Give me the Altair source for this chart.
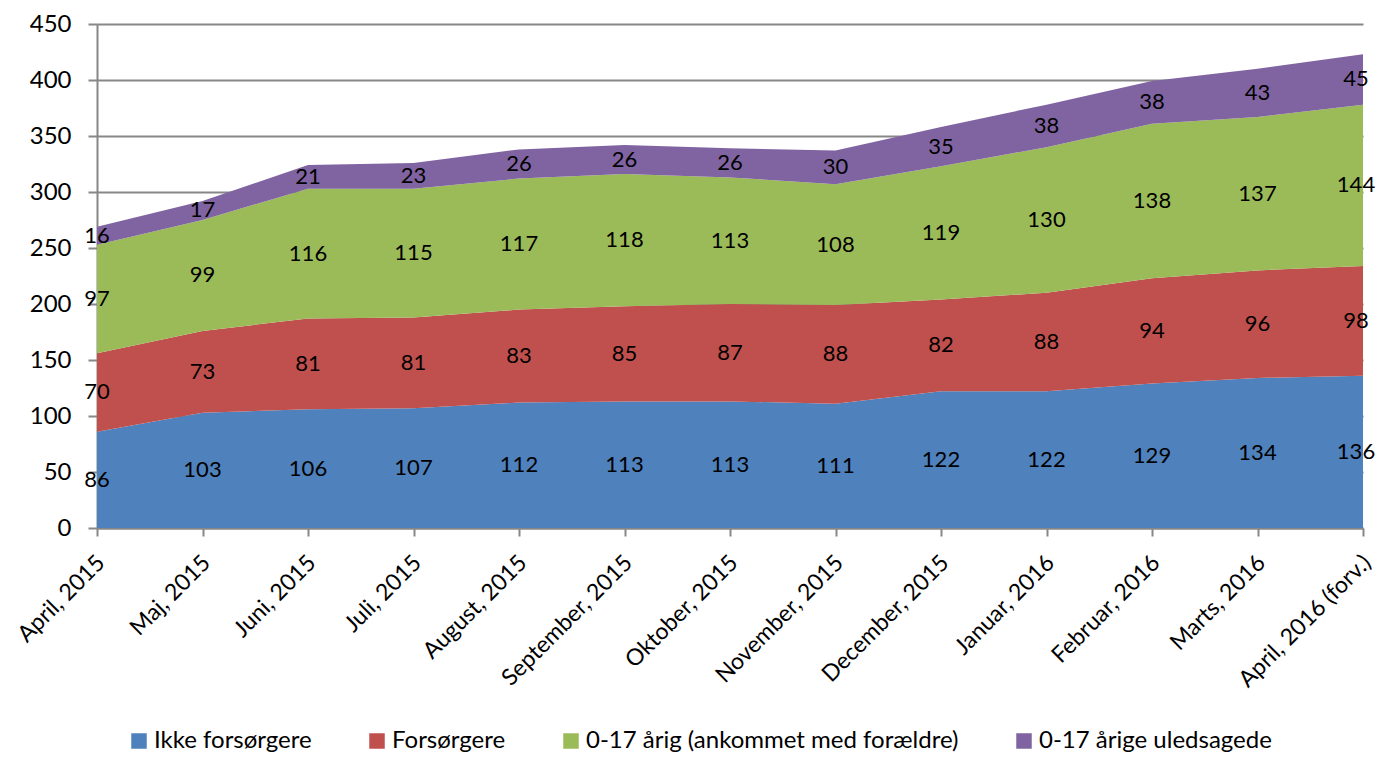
import altair as alt
import pandas as pd

months = ["April, 2015", "Maj, 2015", "Juni, 2015", "Juli, 2015", "August, 2015",
          "September, 2015", "Oktober, 2015", "November, 2015", "December, 2015",
          "Januar, 2016", "Februar, 2016", "Marts, 2016", "April, 2016 (forv.)"]
series = ["Ikke forsørgere", "Forsørgere", "0-17 årig (ankommet med forældre)", "0-17 årige uledsagede"]
ikke = [86, 103, 106, 107, 112, 113, 113, 111, 122, 122, 129, 134, 136]
fors = [70, 73, 81, 81, 83, 85, 87, 88, 82, 88, 94, 96, 98]
aarig = [97, 99, 116, 115, 117, 118, 113, 108, 119, 130, 138, 137, 144]
uleds = [16, 17, 21, 23, 26, 26, 26, 30, 35, 38, 38, 43, 45]
colors = ["#4F81BD", "#C0504D", "#9BBB59", "#8064A2"]
y_ticks = list(range(0, 451, 50))

rows = []
for k, (name, vals) in enumerate(zip(series, [ikke, fors, aarig, uleds])):
    for m, v in zip(months, vals):
        rows.append({"month": m, "series": name, "value": v, "k": k})
df = pd.DataFrame(rows)

FONT = "Lato"
GRAY = "#878787"
last = months[-1]

xscale = alt.Scale(type="point", padding=0)
x = alt.X("month:N", sort=months, scale=xscale,
          axis=alt.Axis(title=None, labelAngle=-45, labelAlign="right", labelBaseline="top",
                        labelFontSize=23, labelFont=FONT, labelColor="black", labelLimit=400,
                        tickSize=8, tickColor=GRAY, tickWidth=2, domainColor=GRAY,
                        domainWidth=2, labelPadding=15, labelOffset=-4, grid=False))

area = alt.Chart(df).mark_area(opacity=1).encode(
    x=x,
    y=alt.Y("value:Q", stack="zero", scale=alt.Scale(domain=[0, 450], nice=False),
            axis=alt.Axis(title=None, values=y_ticks, labelFontSize=24, labelFont=FONT,
                          labelColor="black", tickSize=9, tickColor=GRAY, tickWidth=2,
                          domainColor=GRAY, domainWidth=2, gridColor=GRAY, gridWidth=2,
                          grid=True, labelPadding=17)),
    color=alt.Color("series:N", scale=alt.Scale(domain=series, range=colors),
                    legend=alt.Legend(title=None, orient="none", legendX=30, legendY=705,
                                      direction="horizontal", symbolType="square",
                                      symbolSize=240, symbolStrokeWidth=0,
                                      labelFontSize=24, labelFont=FONT, labelColor="black",
                                      labelOffset=3, columnPadding=53, labelLimit=600)),
    order=alt.Order("k:Q", sort="ascending"),
)

labels = alt.Chart(df).transform_stack(
    stack="value", groupby=["month"], as_=["y0", "y1"],
    sort=[alt.SortField("k", order="ascending")]
).transform_calculate(
    mid="(datum.y0 + datum.y1) / 2"
).mark_text(fontSize=22, font=FONT, color="black",
            dx=alt.ExprRef(f"datum.month === '{last}' ? -7 : 0")).encode(
    x=alt.X("month:N", sort=months, scale=xscale),
    y=alt.Y("mid:Q"),
    text="value:Q",
)

chart = alt.layer(area, labels).properties(
    width=1266, height=504,
    autosize="none",
    padding={"left": 89, "top": 16, "right": 14, "bottom": 229},
).configure_view(stroke=None)

chart.save("out.html", embed_options={"renderer": "svg", "actions": False})
